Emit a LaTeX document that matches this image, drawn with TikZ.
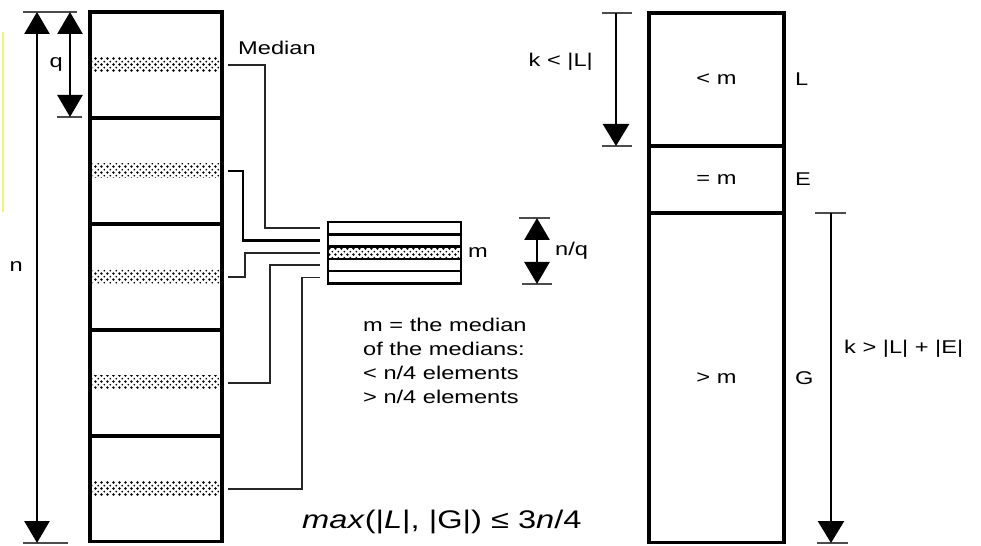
\documentclass[tikz,border=0pt]{standalone}
\usepackage{fontspec}
\setmainfont{Liberation Sans}[FakeStretch=1.28]
\usetikzlibrary{arrows.meta,positioning,patterns}
\definecolor{marker}{HTML}{F6F37A}

\pgfdeclarepatternformonly{beads}{\pgfqpoint{0pt}{0pt}}{\pgfqpoint{3.6pt}{3.6pt}}{\pgfqpoint{3.6pt}{3.6pt}}{
    \pgfpathcircle{\pgfqpoint{0.9pt}{0.9pt}}{0.85pt}
    \pgfpathcircle{\pgfqpoint{2.7pt}{2.7pt}}{0.6pt}
    \pgfusepath{fill}
}

\begin{document}
\begin{tikzpicture}[
        x=0.02cm, y=-0.02cm,
        font=\fontsize{10.5}{13.8}\selectfont,
        block/.style={
            draw=black,
            line width=1.8pt,
            minimum width=2.64cm,
            minimum height=2.12cm,
            inner sep=0pt,
            outer sep=0pt
        },
        band/.style={
            pattern=beads,
            pattern color=black,
            minimum width=2.54cm,
            minimum height=0.28cm,
            inner sep=0pt
        },
        medrow/.style={
            draw=black,
            line width=1.4pt,
            minimum width=2.66cm,
            minimum height=0.246cm,
            inner sep=0pt,
            outer sep=0pt
        },
        partbox/.style={
            draw=black,
            line width=1.8pt,
            minimum width=2.7cm,
            inner sep=0pt,
            outer sep=0pt
        },
        feed/.style={
            line width=0.9pt,
            draw=black!85,
            shorten <=0.16cm,
            shorten >=0.16cm
        },
        dimline/.style={
            {Triangle[length=0.44cm,width=0.5cm]}-{Triangle[length=0.44cm,width=0.5cm]},
            line width=1.5pt
        },
        reachline/.style={
            -{Triangle[length=0.44cm,width=0.52cm]},
            line width=1.5pt
        },
        tickline/.style={
            line width=0.9pt,
            draw=black!70
        }
    ]
        \useasboundingbox (0,0) rectangle (981,546);
        \draw[marker, line width=1.5pt] (3,32) -- (3,212);

        % the n elements in groups of q
        \node[block] (blk1) at (156,65) {};
        \node[block, below=0pt of blk1] (blk2) {};
        \node[block, below=0pt of blk2] (blk3) {};
        \node[block, below=0pt of blk3] (blk4) {};
        \node[block, below=0pt of blk4] (blk5) {};

        \node[band] (med1) at (blk1) {};
        \node[band] (med2) at (blk2) {};
        \node[band] (med3) at (blk3) {};
        \node[band] (med4) at (blk4) {};
        \node[band] (med5) at (blk5) {};

        \node[anchor=west] (medlabel) at (232,48) {Median};

        % the medians
        \node[medrow] (row1) at (394.5,228.2) {};
        \node[medrow, below=0pt of row1] (row2) {};
        \node[medrow, below=0pt of row2, pattern=beads, pattern color=black] (row3) {};
        \node[medrow, below=0pt of row3] (row4) {};
        \node[medrow, below=0pt of row4] (row5) {};
        \node[right=0.02cm of row3] (mlabel) {m};

        \draw[feed] (med1.east) -- ++(45,0) |- (row1.west);
        \draw[feed, line width=1.4pt, draw=black] (med2.east) -- ++(23,0) |- (row2.west);
        \draw[feed] (med3.east) -- ++(25,0) |- (row3.west);
        \draw[feed] (med4.east) -- ++(50,0) |- (row4.west);
        \draw[feed] (med5.east) -- ++(82,0) |- (row5.west);

        \node[anchor=west, align=left] (note) at (357,361) {m = the median\\of the medians:\\< n/4 elements\\> n/4 elements};
        \node[anchor=west, font=\fontsize{14.5}{17}\selectfont] (bound) at (296,522) {\textit{max}(|\textit{L}|, |G|) ≤ 3\textit{n}/4};

        % the split around m
        \node[partbox, minimum height=2.66cm] (lpart) at (716.5,79.5) {< m};
        \node[partbox, minimum height=1.34cm, below=0pt of lpart] (epart) {= m};
        \node[partbox, minimum height=6.6cm, below=0pt of epart] (gpart) {> m};
        \node[right=0.1cm of lpart] (lname) {L};
        \node[right=0.1cm of epart] (ename) {E};
        \node[right=0.1cm of gpart] (gname) {G};

        % dimensions
        \coordinate (ntop) at (37,12);
        \coordinate (nbot) at (37,543);
        \coordinate (qtop) at (70,12);
        \coordinate (qbot) at (70,117);
        \coordinate (nqtop) at (537,218);
        \coordinate (nqbot) at (537,284);
        \coordinate (ltop) at (616,13);
        \coordinate (lbot) at (616,146);
        \coordinate (gtop) at (831,213);
        \coordinate (gbot) at (831,543);

        \draw[tickline] (23,12) -- (77,12);
        \draw[tickline] (23,543) -- (68,543);
        \draw[tickline] (57,117) -- (82,117);
        \draw[tickline] (519,218) -- (550,218);
        \draw[tickline] (522,284) -- (552,284);
        \draw[tickline] (602,13) -- (632,13);
        \draw[tickline] (602,146) -- (632,146);
        \draw[tickline] (815,213) -- (846,213);
        \draw[tickline] (817,543) -- (848,543);

        \draw[dimline] (ntop) -- node[pos=0.48, left=0.14cm] (nlabel) {n} (nbot);
        \draw[dimline] (qtop) -- node[pos=0.5, left=0cm] (qlabel) {q} (qbot);
        \draw[dimline] (nqtop) -- node[pos=0.5, right=0.22cm] (nqlabel) {n/q} (nqbot);
        \draw[reachline] (ltop) -- node[pos=0.37, left=0.32cm] (llabel) {k < |L|} (lbot);
        \draw[reachline] (gtop) -- node[pos=0.41, right=0.12cm] (glabel) {k > |L| + |E|} (gbot);
    \end{tikzpicture}
\end{document}
